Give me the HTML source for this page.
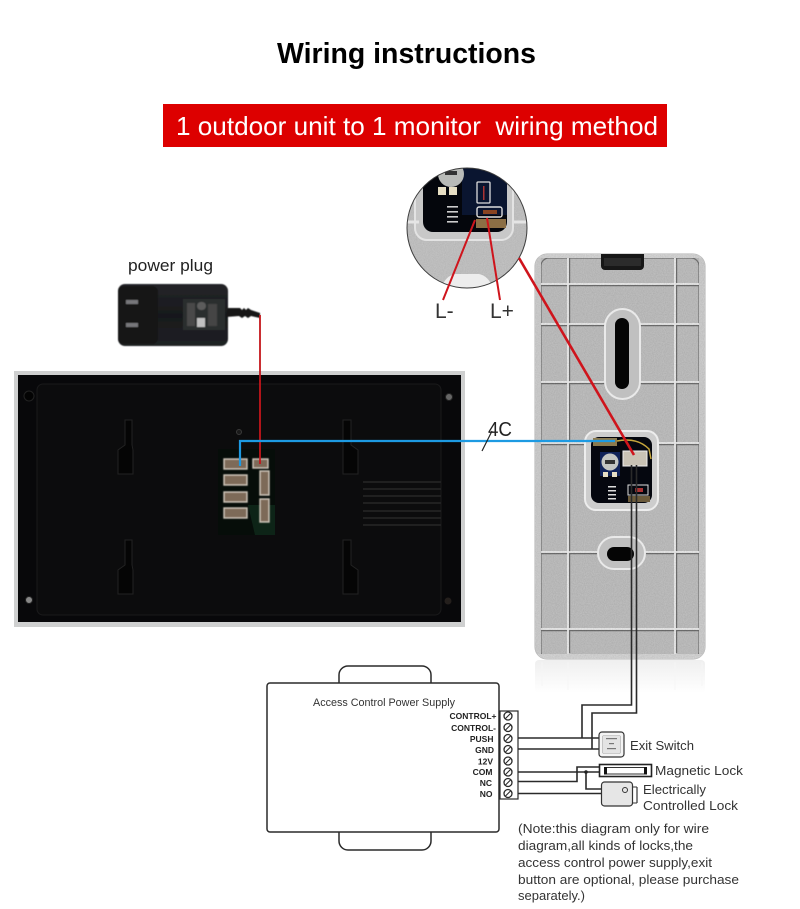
<!DOCTYPE html>
<html lang="en"><head><meta charset="utf-8"><title>Wiring instructions</title>
<style>html,body{margin:0;padding:0;background:#fff}svg{display:block}</style></head>
<body>
<svg xmlns="http://www.w3.org/2000/svg" width="800" height="909" viewBox="0 0 800 909" font-family="'Liberation Sans',sans-serif">
<defs>
<filter id="noise" x="0" y="0" width="100%" height="100%"><feTurbulence type="fractalNoise" baseFrequency="0.9" numOctaves="2" seed="3"/><feColorMatrix values="0 0 0 0 0  0 0 0 0 0  0 0 0 0 0  0.5 0 0 0 -0.12"/></filter>
<filter id="soft"><feGaussianBlur stdDeviation="0.5"/></filter>
<linearGradient id="refl" x1="0" y1="0" x2="0" y2="1"><stop offset="0" stop-color="#e8e8e8"/><stop offset="1" stop-color="#fff"/></linearGradient>
<linearGradient id="plugg" x1="0" y1="0" x2="0" y2="1"><stop offset="0" stop-color="#242529"/><stop offset=".5" stop-color="#18191c"/><stop offset="1" stop-color="#202125"/></linearGradient>
<clipPath id="circ"><circle cx="467" cy="228" r="60"/></clipPath>
<clipPath id="panelclip"><rect x="535" y="254" width="170" height="405" rx="12"/></clipPath>
</defs>
<rect width="800" height="909" fill="#fff"/>

<!-- headings -->
<text x="277" y="63" font-size="28.5" font-weight="700" fill="#000" textLength="259" lengthAdjust="spacingAndGlyphs">Wiring instructions</text>
<rect x="163" y="104" width="504" height="43" fill="#dd0000"/>
<text x="176" y="135" font-size="26" fill="#fff" xml:space="preserve" textLength="482" lengthAdjust="spacingAndGlyphs">1 outdoor unit to 1 monitor  wiring method</text>

<!-- power plug -->
<text x="128" y="271" font-size="16.5" fill="#222" textLength="85" lengthAdjust="spacingAndGlyphs">power plug</text>
<g filter="url(#soft)">
<rect x="118" y="284" width="110" height="62" rx="7" fill="url(#plugg)"/>
<rect x="118" y="286" width="40" height="58" rx="6" fill="#131416"/>
<rect x="126" y="300" width="12" height="4" fill="#77777a"/>
<rect x="126" y="323" width="12" height="4" fill="#77777a"/>
<rect x="183" y="299" width="42" height="31" fill="#2c2d2f"/>
<rect x="187" y="303" width="8" height="23" fill="#4a4a4a"/>
<rect x="197" y="302" width="9" height="8" rx="4" fill="#5c5c5c"/>
<rect x="197" y="318" width="8" height="9" fill="#c0c0c0"/>
<rect x="208" y="304" width="9" height="22" fill="#444"/>
<path d="M228 308h12l2 2 2-2 2 2 2-2 3 2 3 1 6 2v5l-9-2-3 2-3-2-3 2-3-2-13 1z" fill="#131416"/>
</g>

<!-- monitor -->
<rect x="14" y="371" width="451" height="256" fill="#cfd0d0"/>
<rect x="18" y="375" width="443" height="247" fill="#08080a"/>
<rect x="37" y="384" width="404" height="231" rx="6" fill="#0c0c0d" stroke="#1a1a1b" stroke-width="1"/>
<g fill="#050505" stroke="#222" stroke-width="1">
<path d="M125 420h7v25l1 5v24h-15v-24l7-5z"/>
<path d="M125 540h7v25l1 5v24h-15v-24l7-5z"/>
<path d="M344 420h7v25l7 5v24h-15v-54z" />
<path d="M344 540h7v25l7 5v24h-15v-54z" />
</g>
<g stroke="#262627" stroke-width="1.400">
<path d="M363 482h78M363 489h78M363 496h78M363 503h78M363 511h78M363 518h78M363 525h78"/>
</g>
<circle cx="29" cy="396" r="5" fill="#030303" stroke="#222"/>
<circle cx="449" cy="397" r="3.500" fill="#666" stroke="#222"/>
<circle cx="29" cy="600" r="3.500" fill="#888" stroke="#222"/>
<circle cx="448" cy="601" r="3.500" fill="#241f1c"/>
<circle cx="239" cy="432" r="2.500" fill="#1a1a1a" stroke="#3a3a3a"/>

<!-- pcb -->
<rect x="218" y="449" width="57" height="86" fill="#060d09"/>
<path d="M248 505h27v30h-20z" fill="#0f2a1b" opacity=".8"/>
<g fill="#7d6a58" stroke="#cfc6ba" stroke-width="1.400" filter="url(#soft)">
<rect x="224" y="459" width="23" height="10"/>
<rect x="224" y="475" width="23" height="10"/>
<rect x="224" y="492" width="23" height="10"/>
<rect x="224" y="508" width="23" height="10"/>
<rect x="253" y="459" width="15" height="9"/>
<rect x="260" y="471" width="9" height="24"/>
<rect x="260" y="499" width="9" height="23"/>
</g>

<!-- panel -->
<rect x="535" y="660" width="170" height="33" rx="4" fill="url(#refl)" opacity=".7"/>
<g stroke="#f6f6f6" stroke-width="1" opacity=".9"><path d="M568 662v28M675 662v28M542 662v24M702 662v24"/></g>
<rect x="535" y="254" width="170" height="405" rx="12" fill="#c4c4c4" stroke="#b0b0b0"/>
<g clip-path="url(#panelclip)">
<rect x="535" y="254" width="170" height="405" fill="#bebebe"/>
<path d="M541 280v-14a8 8 0 0 1 8-8h142a8 8 0 0 1 8 8v386a6 6 0 0 1-6 6H547a6 6 0 0 1-6-6z" fill="none" stroke="#707070" stroke-width="1.200"/>
<g stroke="#6e6e6e" stroke-width="1.400" fill="none">
<path d="M541 285.500h161M541 325.500h161M541 383.500h161M541 444.500h161M541 553.500h161M541 630.500h161M569.500 258v395M676.500 258v395"/>
</g>
<g stroke="#eeeeee" stroke-width="1.800" fill="none">
<path d="M540 284h163M540 324h163M540 382h163M540 443h163M540 552h163M540 629h163M568 256v398M675 256v398"/>
</g>
<rect x="535" y="254" width="6" height="405" fill="#cdcdcd"/>
<rect x="699" y="254" width="6" height="405" fill="#cdcdcd"/>
<rect x="535" y="654" width="170" height="5" fill="#d4d4d4"/>
<rect x="535" y="254" width="170" height="4" fill="#d4d4d4"/>
<rect x="535" y="254" width="170" height="405" filter="url(#noise)" opacity=".28"/>
</g>
<path d="M601 254h43v12a4 4 0 0 1-4 4h-35a4 4 0 0 1-4-4z" fill="#171717"/>
<rect x="604" y="258" width="37" height="8" fill="#2b2b2b"/>
<!-- slots -->
<rect x="605" y="309" width="35" height="90" rx="17.500" fill="#c0c0c0" stroke="#e9e9e9" stroke-width="2"/>
<rect x="615" y="318" width="14" height="71" rx="7" fill="#050505"/>
<rect x="598" y="537" width="47" height="32" rx="16" fill="#c0c0c0" stroke="#e9e9e9" stroke-width="2"/>
<rect x="607" y="547" width="27" height="14" rx="7" fill="#050505"/>
<!-- window -->
<rect x="585" y="431" width="73" height="79" rx="11" fill="#cdcdcd" stroke="#ededed" stroke-width="2"/>
<rect x="591" y="437" width="61" height="66" rx="8" fill="#05070f"/>
<rect x="600" y="452" width="20" height="24" fill="#102258"/>
<circle cx="610" cy="462" r="8.500" fill="#c3c5c2"/>
<rect x="605" y="460" width="10" height="4" fill="#333"/>
<rect x="603" y="472" width="5" height="5" fill="#e7dfc4"/>
<rect x="612" y="472" width="5" height="5" fill="#e7dfc4"/>
<rect x="593" y="438" width="24" height="8" fill="#8c7a4e"/>
<path d="M617 441q20-4 32 8l2 10" fill="none" stroke="#c6a63b" stroke-width="1.500"/>
<rect x="623" y="451" width="24" height="15" fill="#c9c2b5" stroke="#eee"/>
<g fill="#ddd"><rect x="608" y="486" width="8" height="1.500"/><rect x="608" y="490" width="8" height="1.500"/><rect x="608" y="494" width="8" height="1.500"/><rect x="608" y="498" width="8" height="1.500"/></g>
<rect x="628" y="485" width="20" height="10" fill="none" stroke="#ddd"/>
<rect x="635" y="488" width="8" height="4" fill="#a33"/>
<rect x="628" y="496" width="22" height="6" fill="#6b5a3a"/>

<!-- magnifier -->
<circle cx="467" cy="228" r="60" fill="#c2c2c2"/>
<g clip-path="url(#circ)">
<rect x="407" y="168" width="120" height="120" filter="url(#noise)" opacity=".22"/>
<path d="M415 168v60a12 12 0 0 0 12 12h75a12 12 0 0 0 11-12v-60" fill="#c8c8c8" stroke="#e3e3e3" stroke-width="2"/>
<path d="M405 222h14M514 222h14" stroke="#e5e5e5" stroke-width="3"/>
<path d="M423 160h84v62a10 10 0 0 1-10 10h-64a10 10 0 0 1-10-10z" fill="#04060c"/>
<path d="M462 160h45v55h-45z" fill="#0a1530"/>
<circle cx="451" cy="174" r="13" fill="#b9bbb8"/>
<rect x="445" y="171" width="12" height="4" fill="#333"/>
<rect x="438" y="187" width="8" height="8" fill="#e7dfc4"/>
<rect x="449" y="187" width="8" height="8" fill="#e7dfc4"/>
<g fill="#ccc"><rect x="447" y="206" width="11" height="1.600"/><rect x="447" y="211" width="11" height="1.600"/><rect x="447" y="216" width="11" height="1.600"/><rect x="447" y="221" width="11" height="1.600"/></g>
<rect x="477" y="182" width="13" height="21" rx="1" fill="none" stroke="#ddd" stroke-width="1.300"/>
<rect x="483" y="186" width="1.500" height="14" fill="#a33"/>
<rect x="477" y="207" width="25" height="10" rx="2" fill="none" stroke="#ddd" stroke-width="1.400"/>
<rect x="483" y="210" width="14" height="4" fill="#842"/>
<rect x="476" y="219" width="30" height="9" fill="#8c6f45"/>
<path d="M441 289q4-13 14-15h24q10 2 14 15z" fill="#ededed"/>
</g>
<circle cx="467" cy="228" r="60" fill="none" stroke="#3c3c3c" stroke-width="1"/>

<!-- red lines -->
<g stroke="#cf141c" fill="none">
<path d="M475 220L443 300" stroke-width="2"/>
<path d="M487 218L500 300" stroke-width="2"/>
<path d="M519 258L634 455" stroke-width="2.600"/>
</g>
<text x="435" y="318" font-size="21" fill="#333">L-</text>
<text x="490" y="318" font-size="21" fill="#333">L+</text>

<!-- cables -->
<path d="M260 315V464" stroke="#c4161b" stroke-width="1.800" fill="none"/>
<path d="M240 466V441H615" stroke="#1d9ae2" stroke-width="2.200" fill="none"/>
<path d="M482 451L492 431" stroke="#222" stroke-width="1.200"/>
<text x="488" y="436" font-size="20" fill="#222" textLength="24" lengthAdjust="spacingAndGlyphs">4C</text>

<!-- black wires -->
<g stroke="#2a2a2a" stroke-width="1.600" fill="none">
<path d="M631.500 465V705H582V738"/>
<path d="M636.500 465V713H592V749"/>
<path d="M512 738H600M512 749H600"/>
<path d="M512 772H577V767H600"/>
<path d="M512 781.500H577V772H600"/>
<path d="M586 772V789H602"/>
<path d="M512 793.500H602"/>
</g>
<circle cx="586" cy="772" r="1.800" fill="#222"/>

<!-- power supply box -->
<g fill="#fff" stroke="#2a2a2a" stroke-width="1.500">
<path d="M339 683V675a9 9 0 0 1 9-9h74a9 9 0 0 1 9 9v8"/>
<path d="M339 832v9a9 9 0 0 0 9 9h74a9 9 0 0 0 9-9v-9"/>
<rect x="267" y="683" width="232" height="149" rx="3"/>
<rect x="500" y="711" width="18" height="88" stroke-width="1.200"/>
</g>
<text x="313" y="706" font-size="11" fill="#333" textLength="142" lengthAdjust="spacingAndGlyphs">Access Control Power Supply</text>
<g font-size="8.500" font-weight="700" fill="#222" text-anchor="end">
<text x="496.500" y="719">CONTROL+</text>
<text x="496" y="731">CONTROL-</text>
<text x="493.500" y="742">PUSH</text>
<text x="494" y="753">GND</text>
<text x="493" y="764.500">12V</text>
<text x="492.500" y="775">COM</text>
<text x="492" y="786">NC</text>
<text x="492.500" y="797">NO</text>
</g>
<g fill="#fff" stroke="#2a2a2a" stroke-width="1.300">
<circle cx="508" cy="716" r="4"/><circle cx="508" cy="727.500" r="4"/><circle cx="508" cy="738.500" r="4"/><circle cx="508" cy="749.500" r="4"/><circle cx="508" cy="761" r="4"/><circle cx="508" cy="772" r="4"/><circle cx="508" cy="782.500" r="4"/><circle cx="508" cy="793.500" r="4"/>
</g>
<g stroke="#2a2a2a" stroke-width="1.100">
<path d="M505.500 718.500l5-5M505.500 730l5-5M505.500 741l5-5M505.500 752l5-5M505.500 763.500l5-5M505.500 774.500l5-5M505.500 785l5-5M505.500 796l5-5"/>
</g>

<!-- exit switch -->
<rect x="599" y="732" width="25" height="25" rx="3" fill="#f4f4f4" stroke="#333" stroke-width="1.200"/>
<rect x="602.500" y="735.500" width="18" height="18" rx="1.500" fill="#e4e4e4" stroke="#aaa" stroke-width=".6"/>
<rect x="606" y="738" width="11" height="1.200" fill="#777"/><rect x="609" y="743" width="5" height="1.200" fill="#777"/><rect x="607" y="748" width="9" height="1.200" fill="#777"/>
<text x="630" y="750" font-size="13" fill="#333" textLength="64" lengthAdjust="spacingAndGlyphs">Exit Switch</text>

<!-- magnetic lock -->
<rect x="599.500" y="764.500" width="52" height="12" fill="#fff" stroke="#222" stroke-width="1.600"/>
<rect x="604" y="767" width="3" height="7.500" fill="#111"/><rect x="644" y="767" width="3" height="7.500" fill="#111"/>
<path d="M607 767.500H644M607 774H644" stroke="#333" stroke-width="1"/>
<text x="655" y="775" font-size="13" fill="#333" textLength="88" lengthAdjust="spacingAndGlyphs">Magnetic Lock</text>

<!-- electric lock -->
<rect x="601.500" y="782" width="31" height="24" rx="3" fill="#e6e6e6" stroke="#333" stroke-width="1.200"/>
<path d="M637 787v16" stroke="#333" stroke-width="1.200"/>
<path d="M632 787h5M632 803h5" stroke="#333" stroke-width="1"/>
<circle cx="625" cy="790" r="2.500" fill="none" stroke="#333"/>
<text x="643" y="794" font-size="13" fill="#333" textLength="63" lengthAdjust="spacingAndGlyphs">Electrically</text>
<text x="643" y="810" font-size="13" fill="#333" textLength="95" lengthAdjust="spacingAndGlyphs">Controlled Lock</text>

<!-- note -->
<g font-size="13" fill="#333">
<text x="518" y="833" textLength="191" lengthAdjust="spacingAndGlyphs">(Note:this diagram only for wire</text>
<text x="518" y="850" textLength="175" lengthAdjust="spacingAndGlyphs">diagram,all kinds of locks,the</text>
<text x="518" y="867" textLength="194" lengthAdjust="spacingAndGlyphs">access control power supply,exit</text>
<text x="518" y="884" textLength="221" lengthAdjust="spacingAndGlyphs">button are optional, please purchase</text>
<text x="518" y="900" textLength="67" lengthAdjust="spacingAndGlyphs">separately.)</text>
</g>
</svg>
</body></html>
